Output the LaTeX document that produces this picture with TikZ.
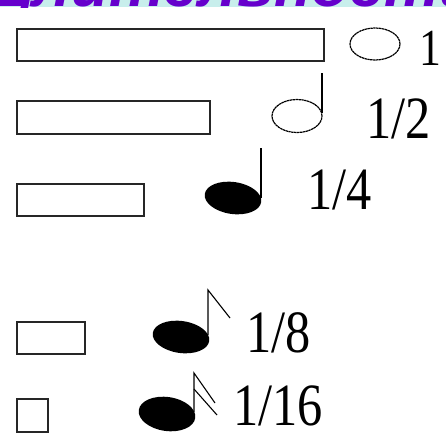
\documentclass[tikz,border=0pt]{standalone}
\usepackage{fontspec}
\setmainfont{Liberation Serif}
\newfontfamily\headfont{Liberation Sans}
\usetikzlibrary{shapes.geometric}
\definecolor{bandcyan}{HTML}{C8EEEC}
\definecolor{headpurple}{HTML}{6600CC}
\tikzset{
  bar/.style={draw=black!85,line width=1.7pt,inner sep=0pt,anchor=north west},
  hollow/.style={draw,line width=1.2pt,dash pattern=on 2.4pt off 0.5pt},
  blob/.style={fill=black},
  stem/.style={line width=1.1pt},
  dur/.style={anchor=base west,inner sep=0pt,font=\fontsize{60}{60}\selectfont}
}
\newcommand\durtext[1]{\scalebox{0.84}[1]{#1}}
\begin{document}
\begin{tikzpicture}[x=1pt,y=1pt]
  \useasboundingbox (0,0) rectangle (446,-442);
  % cut-off title band
  \begin{scope}
    \clip (0,0) rectangle (446,-7);
    \fill[bandcyan] (0,0) rectangle (446,-7);
    \node[anchor=base west,inner sep=0pt,text=headpurple,
      font=\headfont\bfseries\itshape\fontsize{62}{62}\selectfont] (title) at (-12,-6) {Длительности};
  \end{scope}
  % bars
  \node[bar,minimum width=307pt,minimum height=32pt] (bar1) at (16,-28) {};
  \node[bar,minimum width=193pt,minimum height=33pt] (bar2) at (16,-100) {};
  \node[bar,minimum width=127pt,minimum height=32pt] (bar4) at (16,-183) {};
  \node[bar,minimum width=68pt,minimum height=32pt] (bar8) at (16,-321) {};
  \node[bar,minimum width=31pt,minimum height=33pt] (bar16) at (16,-398) {};
  % whole note
  \draw[hollow] (375,-44) ellipse (25 and 16);
  \node[dur,font=\fontsize{52}{52}\selectfont] (l1) at (419,-65) {\durtext{1}};
  % half note
  \draw[hollow] (297,-116) ellipse (25 and 16.5);
  \draw[stem] (322,-113)--(322,-73);
  \node[dur] (l2) at (366,-138) {\durtext{1/2}};
  % quarter note
  \fill[blob,rotate around={-8:(233,-198)}] (233,-198) ellipse (28.5 and 16);
  \draw[stem] (261,-198)--(261,-148);
  \node[dur] (l4) at (307,-209) {\durtext{1/4}};
  % eighth note
  \fill[blob,rotate around={-8:(181,-337)}] (181,-337) ellipse (28.5 and 16);
  \draw[stem] (208,-335)--(208,-290)--(230,-318);
  \node[dur] (l8) at (246,-352) {\durtext{1/8}};
  % sixteenth note
  \fill[blob,rotate around={-8:(167,-414)}] (167,-414) ellipse (28.5 and 17);
  \draw[stem] (194,-412)--(194,-373)--(215,-403);
  \draw[stem] (194,-389)--(217,-415);
  \node[dur] (l16) at (233,-425) {\durtext{1/16}};
\end{tikzpicture}
\end{document}
